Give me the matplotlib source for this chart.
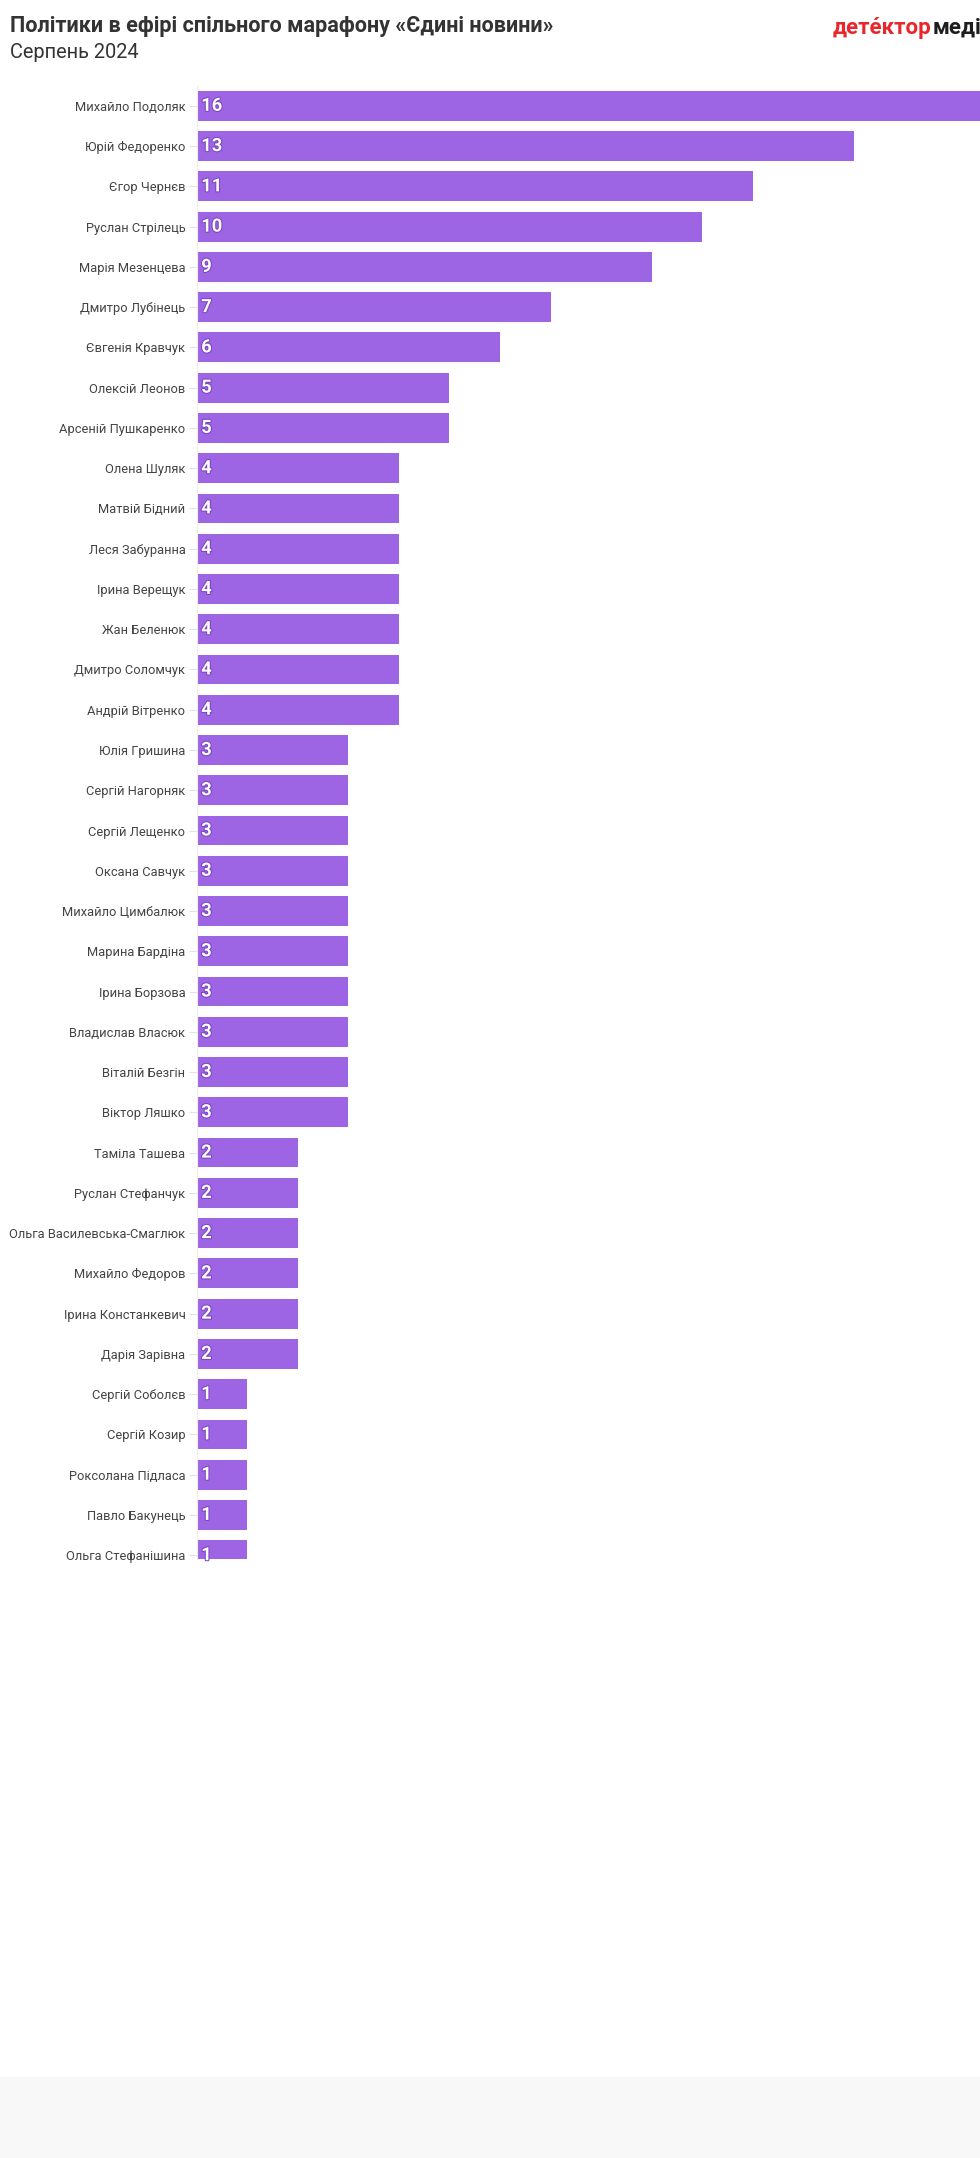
import matplotlib
matplotlib.use("Agg")
import matplotlib.pyplot as plt
import matplotlib.patheffects as pe
from matplotlib.patches import Rectangle

plt.rcParams['font.family'] = ['Roboto', 'DejaVu Sans']

names = [
    "Михайло Подоляк", "Юрій Федоренко", "Єгор Чернєв", "Руслан Стрілець",
    "Марія Мезенцева", "Дмитро Лубінець", "Євгенія Кравчук", "Олексій Леонов",
    "Арсеній Пушкаренко", "Олена Шуляк", "Матвій Бідний", "Леся Забуранна",
    "Ірина Верещук", "Жан Беленюк", "Дмитро Соломчук", "Андрій Вітренко",
    "Юлія Гришина", "Сергій Нагорняк", "Сергій Лещенко", "Оксана Савчук",
    "Михайло Цимбалюк", "Марина Бардіна", "Ірина Борзова", "Владислав Власюк",
    "Віталій Безгін", "Віктор Ляшко", "Таміла Ташева", "Руслан Стефанчук",
    "Ольга Василевська-Смаглюк", "Михайло Федоров", "Ірина Констанкевич",
    "Дарія Зарівна", "Сергій Соболєв", "Сергій Козир", "Роксолана Підласа",
    "Павло Бакунець", "Ольга Стефанішина",
]
values = [16, 13, 11, 10, 9, 7, 6, 5, 5, 4, 4, 4, 4, 4, 4, 4,
          3, 3, 3, 3, 3, 3, 3, 3, 3, 3, 2, 2, 2, 2, 2, 2,
          1, 1, 1, 1, 1]

title = "Політики в ефірі спільного марафону «Єдині новини»"
subtitle = "Серпень 2024"

W, H = 980, 2158
fig = plt.figure(figsize=(W / 100, H / 100), dpi=100)
fig.patch.set_facecolor("white")

# footer band
fig.patches.append(Rectangle((0, 0), 1, (H - 2077) / H, transform=fig.transFigure,
                             facecolor="#f8f8f8", edgecolor="none", zorder=0))

ax_left, ax_top, ax_bottom = 196.5, 85.7, 1559
px_per_unit = 50.58
row_pitch = 40.26
ax = fig.add_axes([ax_left / W, (H - ax_bottom) / H, (W - ax_left) / W, (ax_bottom - ax_top) / H])
ax.set_facecolor("none")

ypos = list(range(len(names)))
ax.barh(ypos, values, height=0.74, color="#9d65e4", edgecolor="none", zorder=2)
ax.set_xlim(0, (W - ax_left) / px_per_unit)
ax.set_ylim(-0.5 + (ax_bottom - ax_top) / row_pitch, -0.5)

ax.set_yticks(ypos)
ax.set_yticklabels(names, fontsize=9.3, color="#444444")
ax.tick_params(axis="y", length=6, width=0.8, color="#e2e2e2", pad=2)
ax.set_xticks([])
for s in ["top", "right", "bottom"]:
    ax.spines[s].set_visible(False)
ax.spines["left"].set_color("#ececec")
ax.spines["left"].set_linewidth(0.8)

for y, v in zip(ypos, values):
    ax.annotate(str(v), xy=(0, y), xytext=(3.4, 0), textcoords="offset points",
                ha="left", va="center", fontsize=13.2, fontweight="bold",
                color="white", zorder=3, annotation_clip=True,
                path_effects=[pe.withStroke(linewidth=1.5, foreground="#7b45c4")])

fig.text(10 / W, 1 - 32 / H, title, fontsize=15.6, fontweight="bold",
         color="#333333", ha="left", va="baseline")
fig.text(10 / W, 1 - 57.5 / H, subtitle, fontsize=14.4, color="#333333",
         ha="left", va="baseline")

fig.text(833 / W, 1 - 34 / H, "детéктор", fontsize=16, fontweight="bold",
         color="#e8262c", ha="left", va="baseline")
fig.text(933 / W, 1 - 34 / H, "медіа", fontsize=16, fontweight="bold",
         color="#1e1e1e", ha="left", va="baseline")

fig.savefig("out.png", dpi=100, facecolor="white")
